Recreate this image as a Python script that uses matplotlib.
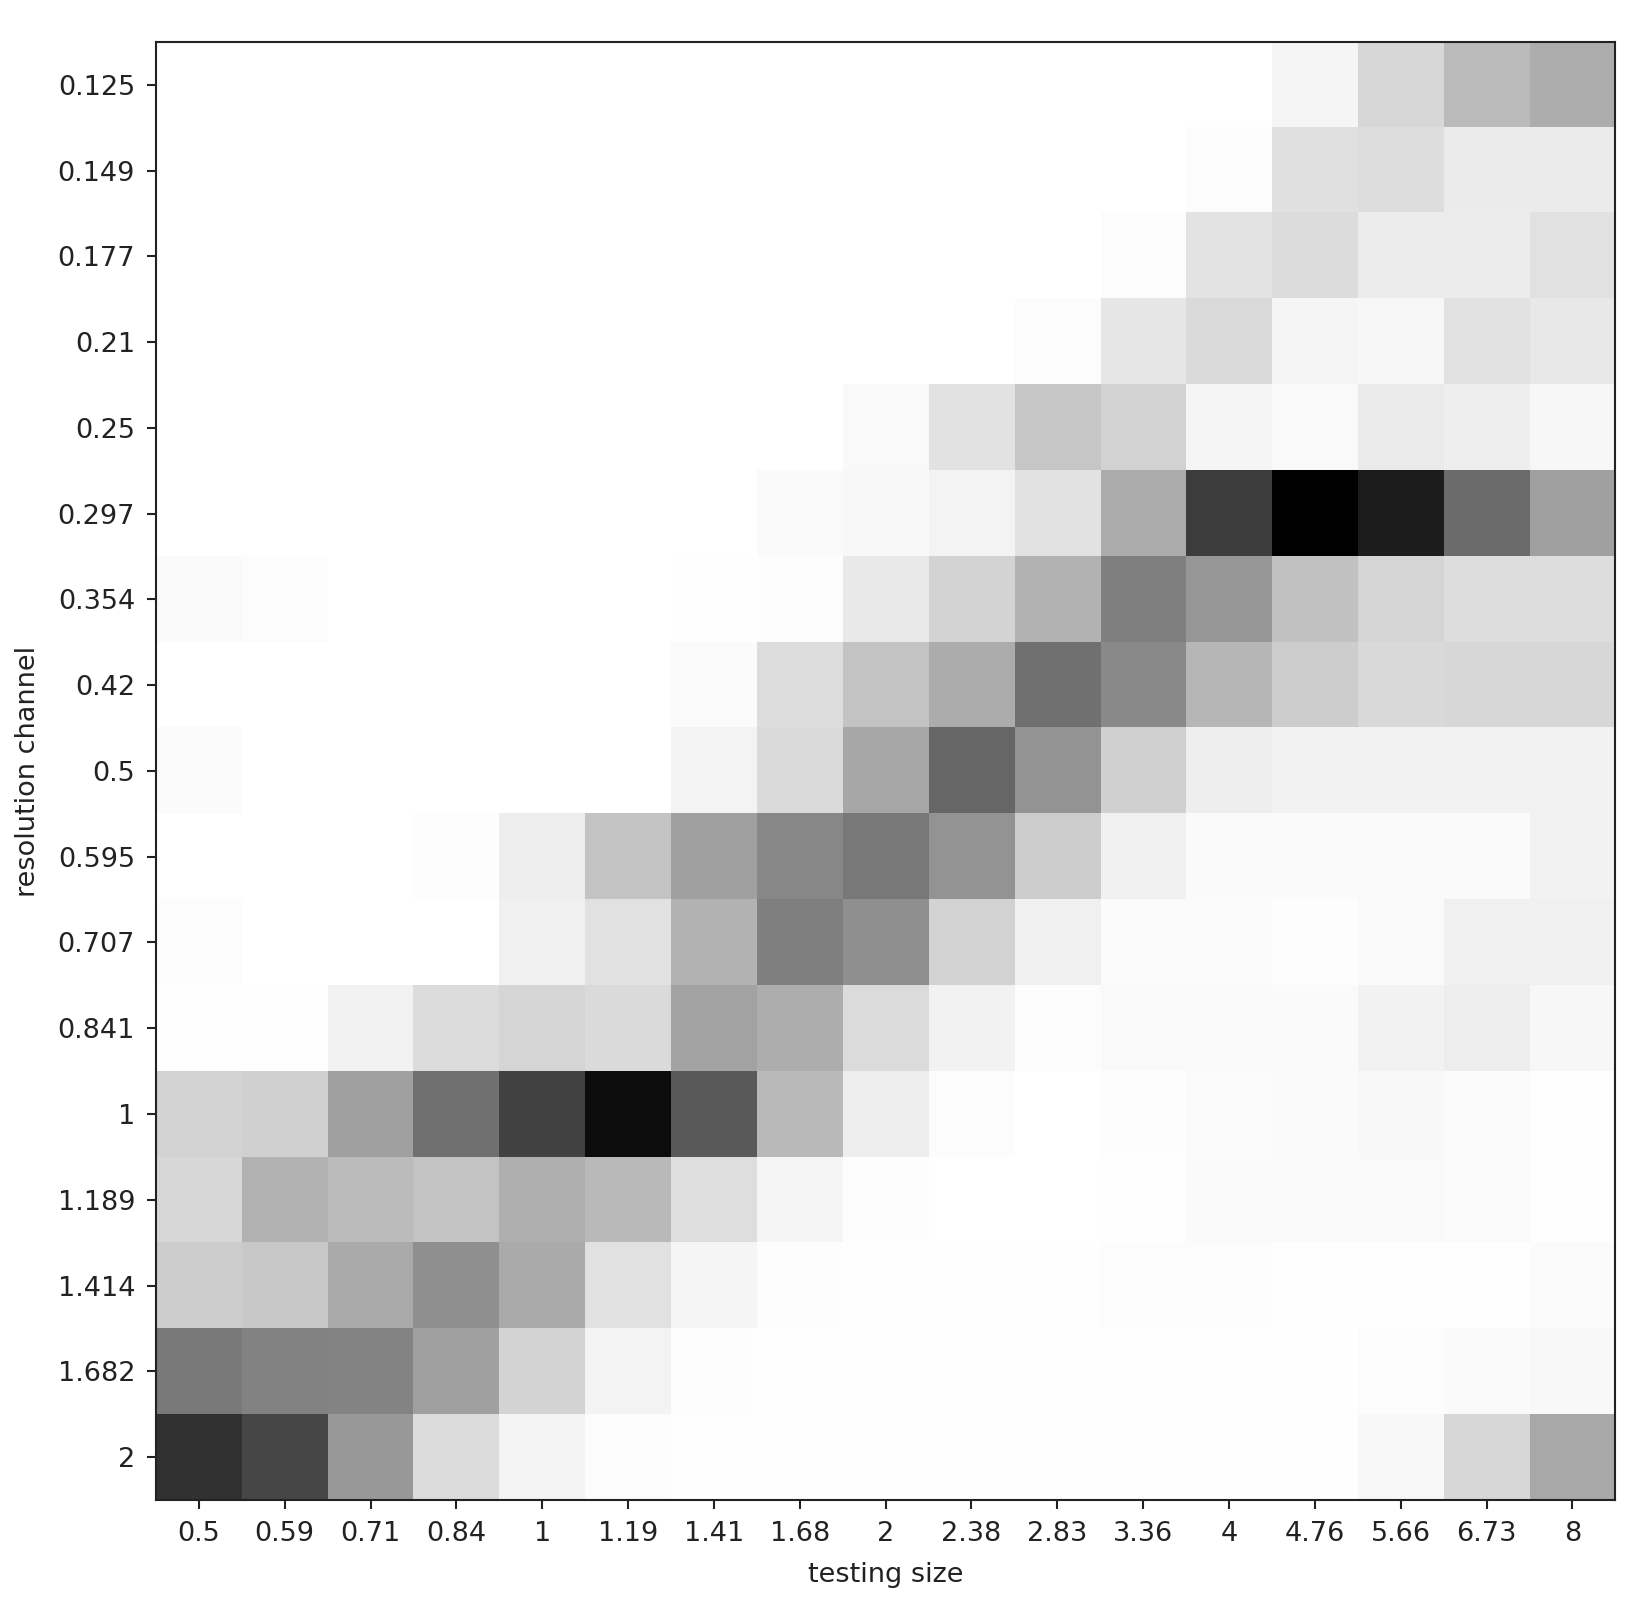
import numpy as np
from matplotlib import pyplot as plt

testing_sizes = ['0.5', '0.59', '0.71', '0.84', '1', '1.19', '1.41', '1.68', '2',
                 '2.38', '2.83', '3.36', '4', '4.76', '5.66', '6.73', '8']
resolution_channels = ['0.125', '0.149', '0.177', '0.21', '0.25', '0.297', '0.354', '0.42',
                       '0.5', '0.595', '0.707', '0.841', '1', '1.189', '1.414', '1.682', '2']

# gray level (255 = white, 0 = black), one list per row
g_0125 = [255, 255, 255, 255, 255, 255, 255, 255, 255, 255, 255, 255, 255, 245, 215, 186, 173]
g_0149 = [255, 255, 255, 255, 255, 255, 255, 255, 255, 255, 255, 255, 252, 224, 221, 235, 235]
g_0177 = [255, 255, 255, 255, 255, 255, 255, 255, 255, 255, 255, 252, 227, 220, 236, 236, 225]
g_021 = [255, 255, 255, 255, 255, 255, 255, 255, 255, 255, 252, 230, 218, 245, 247, 226, 232]
g_025 = [255, 255, 255, 255, 255, 255, 255, 255, 249, 226, 198, 210, 245, 249, 234, 238, 247]
g_0297 = [255, 255, 255, 255, 255, 255, 255, 250, 248, 243, 226, 171, 60, 0, 28, 107, 160]
g_0354 = [250, 252, 255, 255, 255, 255, 254, 253, 233, 211, 178, 127, 150, 193, 213, 221, 221]
g_042 = [255, 255, 255, 255, 255, 255, 251, 221, 195, 172, 112, 137, 182, 205, 217, 215, 215]
g_05 = [251, 255, 255, 255, 255, 255, 243, 218, 167, 102, 148, 208, 238, 242, 242, 242, 242]
g_0595 = [255, 255, 255, 253, 237, 196, 160, 135, 120, 148, 204, 240, 250, 250, 250, 250, 242]
g_0707 = [252, 255, 255, 255, 240, 225, 178, 127, 143, 210, 240, 251, 251, 253, 249, 240, 240]
g_0841 = [254, 254, 242, 220, 213, 218, 162, 173, 219, 242, 252, 249, 250, 250, 242, 237, 247]
g_1 = [210, 208, 160, 112, 65, 12, 90, 185, 238, 252, 255, 253, 251, 250, 248, 251, 254]
g_1189 = [215, 178, 187, 195, 175, 185, 222, 245, 253, 255, 255, 254, 250, 249, 249, 251, 254]
g_1414 = [205, 200, 170, 143, 170, 225, 245, 253, 254, 254, 254, 252, 252, 254, 254, 254, 251]
g_1682 = [122, 130, 132, 160, 212, 243, 253, 254, 254, 254, 254, 254, 254, 254, 252, 250, 248]
g_2 = [50, 70, 152, 220, 244, 252, 254, 254, 254, 254, 254, 254, 254, 254, 248, 215, 168]

def main():
	rows = [g_0125, g_0149, g_0177, g_021, g_025, g_0297, g_0354, g_042, g_05,
	        g_0595, g_0707, g_0841, g_1, g_1189, g_1414, g_1682, g_2]
	# convert gray to normalised score (black = highest)
	scores = 1.0 - np.array(rows, dtype=float) / 255.0

	fig = plt.figure(figsize=(16.5, 16.1), dpi=100)
	ax = fig.add_axes([0.0945, 0.0683, 0.8845, 0.9057])

	ax.imshow(scores, cmap='gray_r', vmin=0, vmax=1, aspect='auto', interpolation='nearest')

	ax.set_xticks(np.arange(len(testing_sizes)))
	ax.set_xticklabels(testing_sizes)
	ax.set_yticks(np.arange(len(resolution_channels)))
	ax.set_yticklabels(resolution_channels)
	ax.tick_params(labelsize=19.5, length=6.5, width=1.5, pad=8.5, colors='#222222')
	for s in ax.spines.values():
		s.set_linewidth(1.5)
		s.set_color('#222222')

	ax.set_xlabel('testing size', fontsize=19.5, labelpad=11, color='#222222')
	ax.set_ylabel('resolution channel', fontsize=19.5, labelpad=12, color='#222222')

	fig.savefig('out.png', dpi=100)


if __name__ == '__main__':
	main()
